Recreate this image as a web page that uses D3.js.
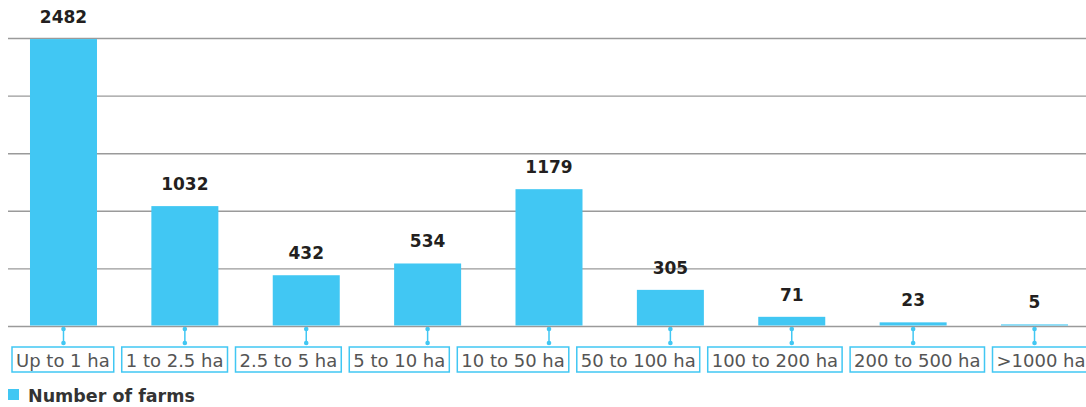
<!DOCTYPE html>
<html>
<head>
<meta charset="utf-8">
<script src="https://cdn.jsdelivr.net/npm/d3@7"></script>
<style>
  html, body { margin: 0; padding: 0; background: #fff; }
  svg { display: block; }
</style>
</head>
<body>
<svg id="chart" width="1086" height="407"></svg>
<script>
// Farm counts by size class
const categories = ["Up to 1 ha", "1 to 2.5 ha", "2.5 to 5 ha", "5 to 10 ha", "10 to 50 ha",
                    "50 to 100 ha", "100 to 200 ha", "200 to 500 ha", ">1000 ha"];
const farms = [2482, 1032, 432, 534, 1179, 305, 71, 23, 5];
const gridTicks = [0, 500, 1000, 1500, 2000, 2500];
const seriesName = "Number of farms";

const W = 1086, H = 407;
const blue = "#41c7f3";
const svg = d3.select("#chart");

const x = d3.scaleBand()
  .domain(categories)
  .range([2.8, 1095.2])
  .paddingInner(0.448)
  .paddingOuter(0.224);

const y = d3.scaleLinear().domain([0, 2500]).range([326, 38]);

// horizontal gridlines
const grid = d3.axisLeft(y).tickValues(gridTicks).tickSize(-(W - 8)).tickFormat("");
svg.append("g")
  .attr("transform", "translate(8,0)")
  .call(grid)
  .call(g => g.select(".domain").remove())
  .call(g => g.selectAll(".tick line").attr("stroke", "#9a9a9a").attr("stroke-width", 1.4));

// bars
svg.append("g").selectAll("rect")
  .data(farms)
  .join("rect")
  .attr("x", (d, i) => x(categories[i]))
  .attr("y", d => y(d) - 1)
  .attr("width", x.bandwidth())
  .attr("height", d => y(0) - y(d) + 0.5)
  .attr("fill", blue);

// value labels
svg.append("g").selectAll("text")
  .data(farms)
  .join("text")
  .attr("x", (d, i) => x(categories[i]) + x.bandwidth() / 2)
  .attr("y", d => y(d) - 17)
  .attr("text-anchor", "middle")
  .attr("font-family", "'DejaVu Sans', sans-serif")
  .attr("font-weight", "bold")
  .attr("font-size", 17)
  .attr("fill", "#231f20")
  .text(d => d);

// category labels in boxes, laid out left to right
const labelG = svg.append("g");
let cursor = 12;
const pad = 4, gap = 8, boxTop = 347, boxH = 25;
categories.forEach((c, i) => {
  const t = labelG.append("text")
    .attr("y", boxTop + 19.5)
    .attr("font-family", "'DejaVu Sans', sans-serif")
    .attr("font-size", 18)
    .attr("fill", "#555")
    .text(c);
  const tw = t.node().getComputedTextLength();
  t.attr("x", cursor + pad);
  labelG.insert("rect", "text")
    .attr("x", cursor)
    .attr("y", boxTop)
    .attr("width", tw + 2 * pad)
    .attr("height", boxH)
    .attr("fill", "#fff")
    .attr("stroke", blue)
    .attr("stroke-width", 1.5);
  cursor += tw + 2 * pad + gap;
});

// connectors from baseline to labels
const conn = svg.append("g");
categories.forEach(c => {
  const cx = x(c) + x.bandwidth() / 2;
  conn.append("line")
    .attr("x1", cx).attr("x2", cx)
    .attr("y1", 329).attr("y2", 343)
    .attr("stroke", blue).attr("stroke-width", 1.5);
  conn.append("circle").attr("cx", cx).attr("cy", 329).attr("r", 2.3).attr("fill", blue);
  conn.append("circle").attr("cx", cx).attr("cy", 343).attr("r", 2.3).attr("fill", blue);
});

// legend
const lg = svg.append("g");
lg.append("rect").attr("x", 8).attr("y", 389).attr("width", 11).attr("height", 11).attr("fill", blue);
lg.append("text")
  .attr("x", 28).attr("y", 402)
  .attr("font-family", "'DejaVu Sans', sans-serif")
  .attr("font-weight", "bold")
  .attr("font-size", 17.5)
  .attr("fill", "#333")
  .text(seriesName);
</script>
</body>
</html>
